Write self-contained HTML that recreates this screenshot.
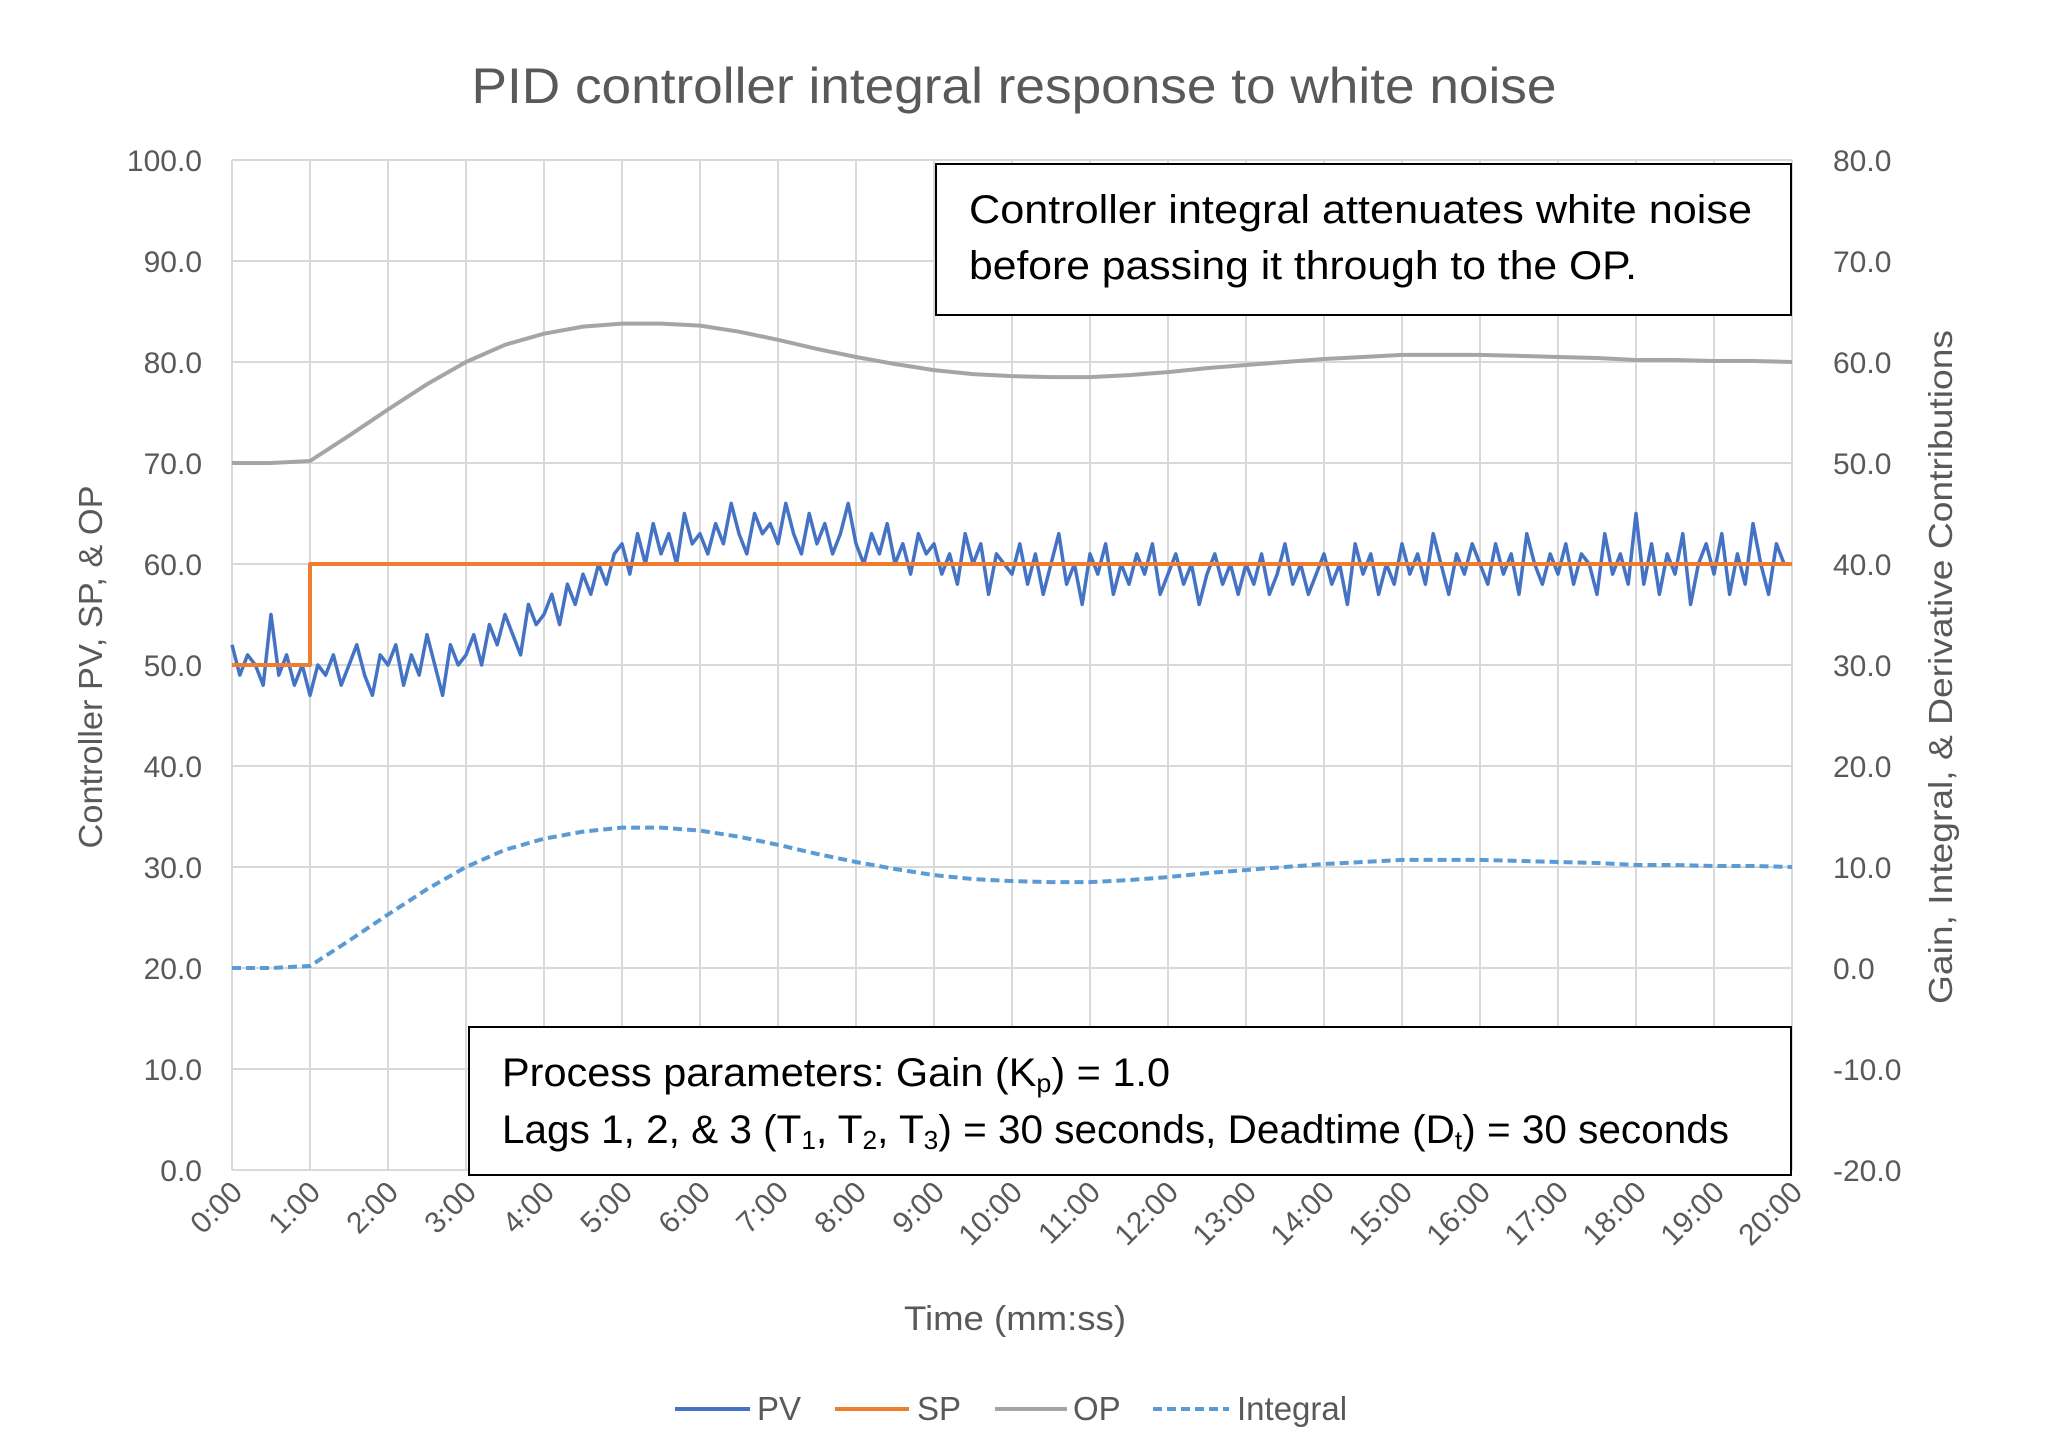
<!DOCTYPE html>
<html><head><meta charset="utf-8">
<style>
html,body{margin:0;padding:0;background:#fff;}
svg{display:block;font-family:"Liberation Sans",sans-serif;}
</style></head>
<body>
<svg id="chart" width="2062" height="1449" viewBox="0 0 2062 1449" xmlns="http://www.w3.org/2000/svg">
<rect x="0" y="0" width="2062" height="1449" fill="#fff"/>
<text x="1014" y="103" text-anchor="middle" font-size="50" fill="#595959" textLength="1085" lengthAdjust="spacingAndGlyphs">PID controller integral response to white noise</text>
<g id="grid"></g>
<g id="series"></g>
<g id="axes"></g>
<text transform="translate(102,667) rotate(-90)" text-anchor="middle" font-size="33" fill="#595959" textLength="363" lengthAdjust="spacingAndGlyphs">Controller PV, SP, &amp; OP</text>
<text transform="translate(1952,667) rotate(-90)" text-anchor="middle" font-size="33" fill="#595959" textLength="674" lengthAdjust="spacingAndGlyphs">Gain, Integral, &amp; Derivative Contributions</text>
<text x="1015" y="1330" text-anchor="middle" font-size="34" fill="#595959" textLength="222" lengthAdjust="spacingAndGlyphs">Time (mm:ss)</text>
<g>
<rect x="936" y="164" width="855" height="151" fill="#fff" stroke="#000" stroke-width="2"/>
<text x="969" y="223" font-size="40" fill="#000" textLength="783" lengthAdjust="spacingAndGlyphs">Controller integral attenuates white noise</text>
<text x="969" y="279" font-size="40" fill="#000" textLength="668" lengthAdjust="spacingAndGlyphs">before passing it through to the OP.</text>
</g>
<g>
<rect x="469" y="1027" width="1322" height="148" fill="#fff" stroke="#000" stroke-width="2"/>
<text x="502" y="1086" font-size="40" fill="#000" textLength="668" lengthAdjust="spacingAndGlyphs">Process parameters:  Gain (K<tspan font-size="26" dy="6">p</tspan><tspan dy="-6">) = 1.0</tspan></text>
<text x="502" y="1143" font-size="40" fill="#000" textLength="1227" lengthAdjust="spacingAndGlyphs">Lags 1, 2, &amp; 3 (T<tspan font-size="26" dy="6">1</tspan><tspan dy="-6">, T</tspan><tspan font-size="26" dy="6">2</tspan><tspan dy="-6">, T</tspan><tspan font-size="26" dy="6">3</tspan><tspan dy="-6">) = 30 seconds, Deadtime (D</tspan><tspan font-size="26" dy="6">t</tspan><tspan dy="-6">) = 30 seconds</tspan></text>
</g>
<g>
<g><line x1="675" y1="1409" x2="750" y2="1409" stroke="#4472C4" stroke-width="4"/><text x="757" y="1420" font-size="33" fill="#595959">PV</text></g>
<g><line x1="835" y1="1409" x2="909" y2="1409" stroke="#ED7D31" stroke-width="4"/><text x="917" y="1420" font-size="33" fill="#595959">SP</text></g>
<g><line x1="995" y1="1409" x2="1067" y2="1409" stroke="#A5A5A5" stroke-width="4"/><text x="1073" y="1420" font-size="33" fill="#595959">OP</text></g>
<g><line x1="1153" y1="1409" x2="1229" y2="1409" stroke="#5B9BD5" stroke-width="4" stroke-dasharray="9,5"/><text x="1237" y="1420" font-size="33" fill="#595959">Integral</text></g>
</g>
</svg>
<script>
const leftTicks = [0,10,20,30,40,50,60,70,80,90,100];
const rightTicks = [-20,-10,0,10,20,30,40,50,60,70,80];
const minuteTicks = [0,1,2,3,4,5,6,7,8,9,10,11,12,13,14,15,16,17,18,19,20];
// PV sampled every 0.1 min (6 s)
const pvValues = [
52,49,51,50,48,55,49,51,48,50,
47,50,49,51,48,50,52,49,47,51,
50,52,48,51,49,53,50,47,52,50,
51,53,50,54,52,55,53,51,56,54,
55,57,54,58,56,59,57,60,58,61,
62,59,63,60,64,61,63,60,65,62,
63,61,64,62,66,63,61,65,63,64,
62,66,63,61,65,62,64,61,63,66,
62,60,63,61,64,60,62,59,63,61,
62,59,61,58,63,60,62,57,61,60,
59,62,58,61,57,60,63,58,60,56,
61,59,62,57,60,58,61,59,62,57,
59,61,58,60,56,59,61,58,60,57,
60,58,61,57,59,62,58,60,57,59,
61,58,60,56,62,59,61,57,60,58,
62,59,61,58,63,60,57,61,59,62,
60,58,62,59,61,57,63,60,58,61,
59,62,58,61,60,57,63,59,61,58,
65,58,62,57,61,59,63,56,60,62,
59,63,57,61,58,64,60,57,62,60,60];
const spTimes = [0,1,1,20];
const spValues = [50,50,60,60];
const opTimes = [0,0.5,1,1.5,2,2.5,3,3.5,4,4.5,5,5.5,6,6.5,7,7.5,8,8.5,9,9.5,10,10.5,11,11.5,12,12.5,13,13.5,14,14.5,15,15.5,16,16.5,17,17.5,18,18.5,19,19.5,20];
const opValues = [70,70,70.2,72.7,75.3,77.8,80,81.7,82.8,83.5,83.8,83.8,83.6,83,82.2,81.3,80.5,79.8,79.2,78.8,78.6,78.5,78.5,78.7,79,79.4,79.7,80,80.3,80.5,80.7,80.7,80.7,80.6,80.5,80.4,80.2,80.2,80.1,80.1,80];
const integralValues = [0,0,0.2,2.7,5.3,7.8,10,11.7,12.8,13.5,13.9,13.9,13.6,13,12.2,11.3,10.5,9.8,9.2,8.8,8.6,8.5,8.5,8.7,9,9.4,9.7,10,10.3,10.5,10.7,10.7,10.7,10.6,10.5,10.4,10.2,10.2,10.1,10.1,10];

const X0=232,X1=1792,Y0=1170,Y1=160;
const NS="http://www.w3.org/2000/svg";
const xs=t=>X0+(X1-X0)*t/20;
const yl=v=>Y0-(Y0-Y1)*v/100;
const yr=v=>Y0-(Y0-Y1)*(v+20)/100;
function mk(tag,attrs,parent){const e=document.createElementNS(NS,tag);for(const k in attrs)e.setAttribute(k,attrs[k]);parent.appendChild(e);return e;}
const grid=document.getElementById('grid'),axes=document.getElementById('axes'),series=document.getElementById('series');
leftTicks.forEach((v,i)=>{
  const l=mk('line',{x1:X0,x2:X1,y1:yl(v),y2:yl(v),stroke:'#D9D9D9','stroke-width':2},grid);
  
  
  const t=mk('text',{x:202,y:yl(v)+11,'text-anchor':'end','font-size':30,fill:'#595959'},axes);
  t.textContent=v.toFixed(1);
  
  
});
rightTicks.forEach(v=>{
  const t=mk('text',{x:1833,y:yr(v)+11,'text-anchor':'start','font-size':30,fill:'#595959'},axes);
  t.textContent=v.toFixed(1);
  
  
});
minuteTicks.forEach(m=>{
  const l=mk('line',{x1:xs(m),x2:xs(m),y1:Y1,y2:Y0,stroke:'#D9D9D9','stroke-width':2},grid);
  
  
  const t=mk('text',{transform:`translate(${xs(m)+12},${Y0+24}) rotate(-45)`,'text-anchor':'end','font-size':30,fill:'#595959'},axes);
  t.textContent=m+':00';
  
  
});
function path(pts,attrs,name){
  const d=pts.map((p,i)=>(i?'L':'M')+p[0].toFixed(1)+','+p[1].toFixed(1)).join('');
  const p=mk('path',Object.assign({d:d,fill:'none','stroke-linejoin':'round'},attrs),series);
  
  
}
path(opTimes.map((t,i)=>[xs(t),yl(opValues[i])]),{stroke:'#A5A5A5','stroke-width':4},'op-line');
path(opTimes.map((t,i)=>[xs(t),yr(integralValues[i])]),{stroke:'#5B9BD5','stroke-width':4,'stroke-dasharray':'9,5'},'integral-line');
path(pvValues.map((v,i)=>[xs(i*0.1),yl(v)]),{stroke:'#4472C4','stroke-width':3.5},'pv-line');
path(spTimes.map((t,i)=>[xs(t),yl(spValues[i])]),{stroke:'#ED7D31','stroke-width':4},'sp-line');
</script>
</body></html>
